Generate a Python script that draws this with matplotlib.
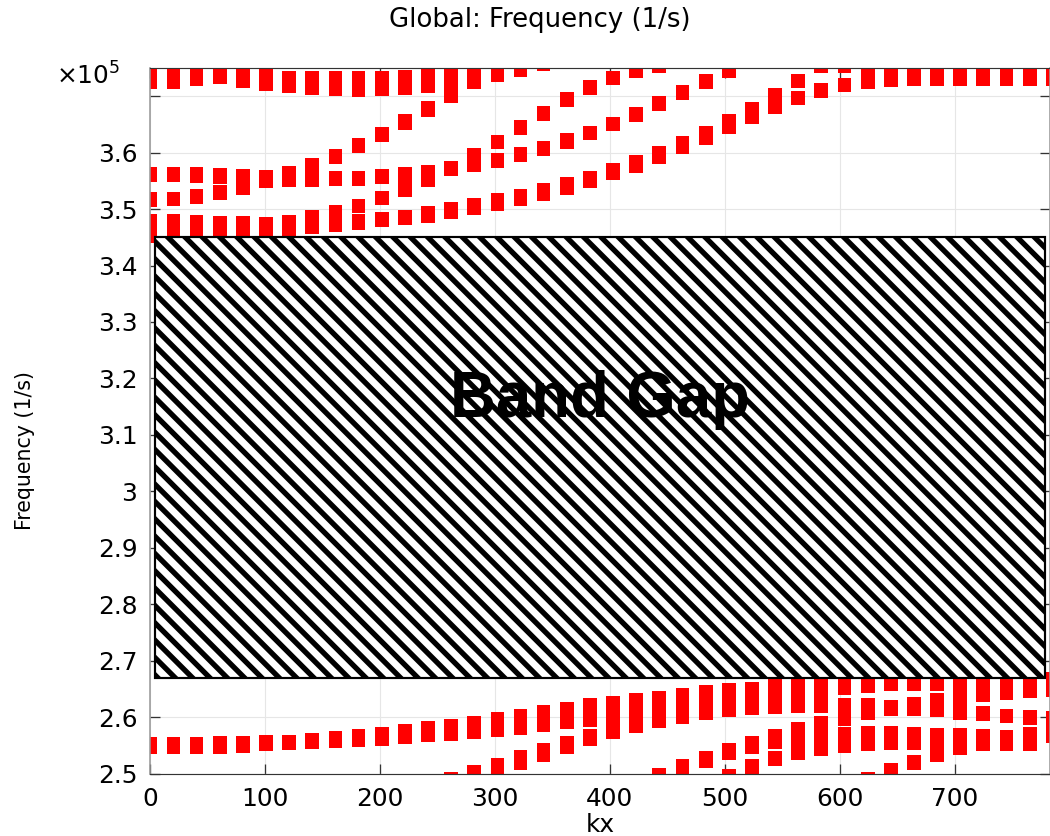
import numpy as np
import matplotlib
matplotlib.use("Agg")
import matplotlib.pyplot as plt
from matplotlib.patches import Rectangle

# kx sample points (0 .. pi/a)
kx = [0.0, 20.1, 40.3, 60.4, 80.6, 100.7, 120.8, 141.0, 161.1, 181.2,
      201.4, 221.5, 241.7, 261.8, 281.9, 302.1, 322.2, 342.3, 362.5, 382.6,
      402.8, 422.9, 443.0, 463.2, 483.3, 503.5, 523.6, 543.7, 563.9, 584.0,
      604.2, 624.3, 644.4, 664.6, 684.7, 704.8, 725.0, 745.1, 765.3, 785.4]

# eigenfrequency bands, lower/upper end of each mark (x 1e5 1/s)
# upper branches
up_a_start = 0
up_a_lo = [3.712, 3.713, 3.718, 3.721, 3.715, 3.709, 3.705, 3.702, 3.700, 3.699,
           3.700, 3.702, 3.706, 3.688, 3.712, 3.725, 3.734, 3.744]
up_a_hi = [3.76, 3.76, 3.76, 3.76, 3.76, 3.76, 3.745, 3.744, 3.744, 3.744,
           3.745, 3.746, 3.76, 3.76, 3.76, 3.76, 3.76, 3.76]

up_b_start = 8
up_b_lo = [3.580, 3.599, 3.619, 3.641, 3.664]
up_b_hi = [3.606, 3.626, 3.646, 3.668, 3.691]

up_c_start = 0
up_c_lo = [3.548, 3.548, 3.547, 3.545, 3.525, 3.537, 3.540, 3.540, 3.541, 3.541,
           3.544, 3.522, 3.540, 3.558, 3.565, 3.573, 3.583, 3.594, 3.607, 3.622,
           3.638, 3.655, 3.673, 3.693, 3.712, 3.732]
up_c_hi = [3.575, 3.574, 3.574, 3.572, 3.571, 3.569, 3.576, 3.590, 3.567, 3.568,
           3.571, 3.574, 3.578, 3.586, 3.608, 3.600, 3.610, 3.621, 3.635, 3.648,
           3.664, 3.681, 3.700, 3.719, 3.739, 3.76]

up_f_start = 15
up_f_lo = [3.606, 3.632, 3.656, 3.681, 3.702, 3.719, 3.733, 3.742, 3.748]
up_f_hi = [3.632, 3.658, 3.682, 3.707, 3.728, 3.745, 3.76, 3.76, 3.76]

up_c2_start = 0
up_c2_lo = [3.504, 3.505, 3.509, 3.517]
up_c2_hi = [3.530, 3.531, 3.535, 3.542]

up_d_start = 0
up_d_lo = [3.44, 3.44, 3.44, 3.44, 3.44, 3.44, 3.44, 3.456, 3.459, 3.463,
           3.468, 3.472, 3.476, 3.483, 3.489, 3.497, 3.505, 3.515, 3.525, 3.537,
           3.551, 3.564, 3.580, 3.597, 3.614, 3.633, 3.651, 3.668, 3.684, 3.697,
           3.707, 3.712, 3.716, 3.718, 3.718, 3.718, 3.718, 3.718, 3.718, 3.718]
up_d_hi = [3.492, 3.491, 3.490, 3.488, 3.487, 3.486, 3.489, 3.498, 3.507, 3.491,
           3.494, 3.499, 3.505, 3.512, 3.519, 3.528, 3.535, 3.546, 3.557, 3.568,
           3.581, 3.596, 3.612, 3.629, 3.647, 3.668, 3.690, 3.714, 3.709, 3.723,
           3.733, 3.76, 3.76, 3.76, 3.76, 3.76, 3.76, 3.76, 3.76, 3.76]

up_e_start = 9
up_e_lo = [3.493, 3.507]
up_e_hi = [3.518, 3.532]

up_g_start = 28
up_g_lo = [3.714, 3.742, 3.742]
up_g_hi = [3.739, 3.76, 3.76]

# lower branches
low_a_start = 0
low_a_lo = [2.534, 2.534, 2.534, 2.535, 2.537, 2.540, 2.541, 2.544, 2.546, 2.547,
            2.549, 2.552, 2.555, 2.558, 2.561, 2.565, 2.568, 2.573, 2.578, 2.583,
            2.561, 2.572, 2.581, 2.588, 2.594, 2.600, 2.604, 2.606, 2.607, 2.607,
            2.639, 2.643, 2.647, 2.647, 2.646, 2.595, 2.627, 2.631, 2.634, 2.636]
low_a_hi = [2.564, 2.564, 2.565, 2.567, 2.567, 2.568, 2.569, 2.571, 2.575, 2.579,
            2.583, 2.588, 2.593, 2.597, 2.602, 2.609, 2.615, 2.621, 2.627, 2.633,
            2.637, 2.643, 2.647, 2.652, 2.656, 2.660, 2.663, 2.68, 2.68, 2.68,
            2.68, 2.68, 2.68, 2.68, 2.68, 2.68, 2.68, 2.68, 2.68, 2.68]

low_b_start = 13
low_b_lo = [2.49, 2.49, 2.49, 2.506, 2.521, 2.535, 2.549]
low_b_hi = [2.502, 2.515, 2.528, 2.541, 2.554, 2.567, 2.579]

low_c_start = 30
low_c_lo = [2.585, 2.594, 2.602, 2.602, 2.600, None, 2.593, 2.589, 2.586, 2.554]
low_c_hi = [2.634, 2.633, 2.631, 2.635, 2.642, None, 2.619, 2.615, 2.612, 2.610]

low_d_start = 30
low_d_lo = [2.537, 2.539, 2.541, 2.541, 2.521, 2.532, 2.540, 2.540, 2.540]
low_d_hi = [2.583, 2.584, 2.584, 2.583, 2.581, 2.580, 2.578, 2.577, 2.583]

low_e_start = 22
low_e_lo = [2.49, 2.49, 2.509, 2.524, 2.535, 2.544, 2.524, 2.531]
low_e_hi = [2.509, 2.525, 2.540, 2.554, 2.567, 2.579, 2.591, 2.602]

low_f_start = 25
low_f_lo = [2.49, 2.49, 2.514]
low_f_hi = [2.508, 2.526, 2.540]

low_g_start = 31
low_g_lo = [2.49, 2.49, 2.507]
low_g_hi = [2.502, 2.518, 2.533]

# band gap limits
gap_kx = [4.0, 778.5]
gap_f = [2.669, 3.4506]

yticks = [2.5, 2.6, 2.7, 2.8, 2.9, 3.0, 3.1, 3.2, 3.3, 3.4, 3.5, 3.6, 3.7]
ytick_labels = ['2.5', '2.6', '2.7', '2.8', '2.9', '3', '3.1', '3.2', '3.3',
                '3.4', '3.5', '3.6', '']
xticks = [0, 100, 200, 300, 400, 500, 600, 700]

DPI = 104
plt.rcParams['hatch.linewidth'] = 3.7
plt.rcParams['font.family'] = ['DejaVu Sans']

fig = plt.figure(figsize=(1050 / DPI, 836 / DPI), dpi=DPI)
ax = fig.add_axes([150.3 / 1050, (836 - 773.5) / 836, 899.2 / 1050, 705.5 / 836])


def draw_band(start, lo, hi):
    xs, bots, hts = [], [], []
    for i, (a, b) in enumerate(zip(lo, hi)):
        if a is None:
            continue
        xs.append(kx[start + i])
        bots.append(a)
        hts.append(b - a)
    ax.bar(xs, hts, bottom=bots, width=12, color='#ff0000', linewidth=0, zorder=2)


draw_band(up_a_start, up_a_lo, up_a_hi)
draw_band(up_b_start, up_b_lo, up_b_hi)
draw_band(up_c_start, up_c_lo, up_c_hi)
draw_band(up_f_start, up_f_lo, up_f_hi)
draw_band(up_c2_start, up_c2_lo, up_c2_hi)
draw_band(up_d_start, up_d_lo, up_d_hi)
draw_band(up_e_start, up_e_lo, up_e_hi)
draw_band(up_g_start, up_g_lo, up_g_hi)
draw_band(low_a_start, low_a_lo, low_a_hi)
draw_band(low_b_start, low_b_lo, low_b_hi)
draw_band(low_c_start, low_c_lo, low_c_hi)
draw_band(low_d_start, low_d_lo, low_d_hi)
draw_band(low_e_start, low_e_lo, low_e_hi)
draw_band(low_f_start, low_f_lo, low_f_hi)
draw_band(low_g_start, low_g_lo, low_g_hi)

# band gap box
gap = Rectangle((gap_kx[0], gap_f[0]), gap_kx[1] - gap_kx[0], gap_f[1] - gap_f[0],
                facecolor='white', edgecolor='black', hatch='\\\\', linewidth=1.5, zorder=3)
ax.add_patch(gap)
ax.text(391, 3.162, 'Band Gap', fontsize=44, fontweight='bold', family='Liberation Sans',
        ha='center', va='center', zorder=4)

ax.set_xlim(0, 782.6)
ax.set_ylim(2.5, 3.75)
ax.set_xticks(xticks)
ax.set_yticks(yticks)
ax.set_yticklabels(ytick_labels)
ax.grid(True, color='#e6e6e6', linewidth=0.8)
ax.set_axisbelow(True)

ax.tick_params(axis='both', direction='in', labelsize=17.2, length=6.6, width=0.9,
               color='#333333', pad=9)
ax.tick_params(top=True, right=True)
for side in ['top', 'bottom']:
    ax.spines[side].set_color('#333333')
for side in ['left', 'right']:
    ax.spines[side].set_color('#999999')
    ax.spines[side].set_linewidth(1.1)

fig.text(120 / 1050, 1 - 85 / 836, r'$\times$10$^{5}$', fontsize=17.2, ha='right', va='baseline')
fig.text(540 / 1050, 1 - 20 / 836, 'Global: Frequency (1/s)', fontsize=18, ha='center', va='center')
fig.text(25 / 1050, 1 - 450 / 836, 'Frequency (1/s)', fontsize=14.2, rotation=90,
         ha='center', va='center')
fig.text(600 / 1050, 1 - 832 / 836, 'kx', fontsize=17.2, ha='center', va='baseline')

fig.savefig('out.png', dpi=DPI)
